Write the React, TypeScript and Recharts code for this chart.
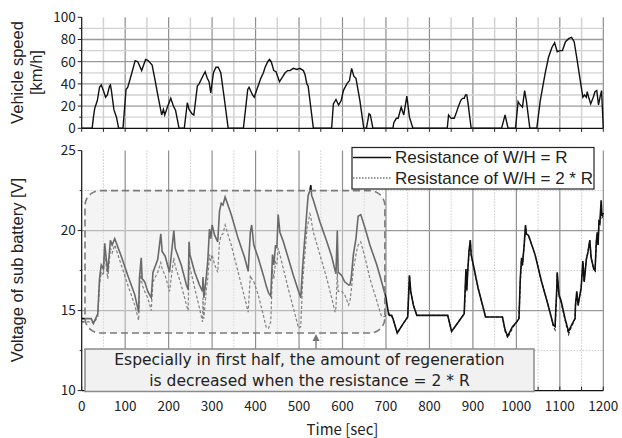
import React from 'react';
import { LineChart, Line, XAxis, YAxis, CartesianGrid, ReferenceArea } from 'recharts';

// ---------- data ----------
const speedTime = [0, 24, 27, 30, 36, 41, 45, 49, 55, 59, 64, 66, 68, 74, 80, 85, 95, 102, 106, 114, 123, 129, 138, 147, 153, 162, 168, 176, 184, 188, 191, 198, 205, 211, 216, 219, 224, 236, 243, 247, 254, 258, 266, 270, 280, 284, 289, 293, 297, 303, 309, 314, 320, 327, 332, 337, 372, 382, 385, 393, 397, 403, 412, 418, 422, 428, 432, 436, 442, 447, 455, 460, 468, 474, 479, 487, 495, 502, 510, 514, 518, 521, 533, 575, 579, 585, 591, 597, 602, 610, 616, 621, 626, 631, 640, 649, 655, 661, 664, 670, 716, 718, 724, 728, 735, 741, 748, 754, 762, 841, 844, 850, 857, 861, 867, 872, 876, 880, 883, 886, 889, 896, 966, 970, 974, 981, 998, 1004, 1007, 1014, 1019, 1023, 1031, 1047, 1055, 1066, 1074, 1082, 1088, 1094, 1100, 1106, 1113, 1121, 1127, 1133, 1140, 1147, 1153, 1157, 1161, 1163, 1167, 1171, 1177, 1181, 1185, 1189, 1193, 1196, 1200];
const speedKmh = [0, 0, 10, 18, 25, 37, 39, 35, 28, 30, 38, 39, 35, 17, 10, 0, 0, 35, 37, 48, 61, 60, 52, 62, 61, 57, 45, 28, 12, 17, 12, 20, 27, 20, 16, 10, 0, 0, 23, 17, 13, 12, 38, 40, 48, 51, 45, 42, 32, 50, 55, 55, 50, 30, 15, 0, 0, 35, 37, 30, 28, 35, 45, 50, 55, 60, 62, 60, 52, 51, 42, 45, 50, 52, 52, 54, 53, 54, 52, 48, 40, 38, 0, 0, 22, 26, 21, 25, 34, 40, 43, 54, 47, 45, 25, 0, 0, 13, 12, 0, 0, 5, 9, 9, 19, 12, 29, 10, 0, 0, 12, 9, 9, 13, 20, 25, 27, 27, 30, 30, 22, 0, 0, 6, 12, 0, 0, 24, 22, 19, 34, 25, 0, 0, 25, 49, 64, 73, 77, 69, 70, 70, 78, 81, 82, 78, 61, 43, 28, 30, 28, 33, 27, 22, 28, 33, 34, 21, 29, 34, 0];

const voltTime = [0, 22, 27, 37, 41, 45, 50, 53, 57, 60, 66, 70, 76, 91, 106, 122, 131, 133, 137, 139, 145, 152, 160, 164, 175, 182, 185, 192, 202, 212, 215, 229, 241, 245, 247, 249, 260, 271, 278, 279, 281, 287, 290, 294, 297, 300, 306, 313, 317, 321, 325, 330, 344, 360, 375, 383, 388, 391, 396, 406, 418, 425, 430, 435, 439, 442, 446, 449, 452, 456, 464, 475, 487, 499, 504, 508, 512, 515, 518, 521, 525, 527, 529, 533, 548, 564, 575, 583, 585, 588, 590, 598, 605, 614, 617, 620, 625, 631, 634, 636, 642, 652, 663, 679, 689, 694, 700, 705, 708, 713, 716, 726, 740, 750, 754, 757, 763, 771, 842, 851, 867, 880, 882, 884, 886, 888, 891, 894, 896, 901, 912, 924, 929, 968, 974, 980, 991, 1001, 1006, 1009, 1012, 1014, 1018, 1021, 1023, 1028, 1043, 1058, 1073, 1085, 1089, 1093, 1094, 1098, 1103, 1112, 1120, 1127, 1135, 1136, 1139, 1142, 1145, 1149, 1153, 1156, 1161, 1165, 1169, 1172, 1178, 1181, 1184, 1186, 1188, 1190, 1192, 1195, 1197, 1200];
const voltR = [14.5, 14.5, 14.2, 14.8, 17.0, 17.85, 17.6, 19.2, 18.1, 17.4, 19.4, 19.1, 19.5, 18.4, 17.2, 16.0, 14.9, 17.1, 18.3, 17.0, 16.8, 16.2, 15.8, 17.4, 18.2, 19.8, 18.7, 18.4, 17.4, 20.0, 18.9, 17.85, 16.6, 16.3, 19.3, 18.5, 17.4, 16.6, 16.2, 17.1, 15.8, 17.2, 18.1, 20.1, 19.5, 20.35, 19.7, 19.3, 21.2, 21.7, 21.6, 22.1, 21.0, 19.5, 18.3, 17.45, 19.9, 20.35, 19.1, 18.3, 17.2, 16.5, 16.1, 15.9, 18.5, 17.85, 19.1, 18.9, 21.0, 19.9, 19.3, 18.3, 17.2, 16.2, 15.8, 17.6, 19.1, 20.1, 21.2, 22.2, 22.5, 22.85, 22.2, 21.9, 20.55, 19.3, 18.4, 17.5, 17.3, 20.0, 17.4, 17.2, 16.8, 16.6, 16.6, 17.0, 18.5, 19.5, 20.35, 20.9, 21.0, 20.15, 19.1, 17.85, 16.9, 16.4, 15.8, 14.95, 14.7, 14.7, 14.5, 13.6, 14.2, 14.6, 17.2, 16.2, 15.35, 14.7, 14.7, 13.7, 14.3, 14.8, 16.2, 17.6, 16.3, 17.4, 18.7, 19.4, 18.5, 17.85, 16.4, 15.15, 14.6, 14.6, 13.8, 13.4, 14.0, 14.3, 14.5, 17.0, 18.3, 17.85, 19.1, 20.35, 19.8, 19.7, 18.5, 16.8, 15.35, 14.1, 14.0, 16.4, 17.4, 16.0, 15.6, 14.5, 13.7, 14.1, 14.5, 15.35, 16.2, 15.35, 15.8, 16.4, 18.1, 16.8, 18.2, 18.7, 19.4, 18.3, 17.6, 17.5, 19.3, 19.9, 19.1, 20.55, 20.45, 21.9, 20.9, 21.1];
const volt2R = [14.3, 14.3, 14.2, 14.6, 16.6, 17.4, 17.2, 18.7, 17.6, 17.0, 18.9, 18.6, 19.1, 17.85, 16.6, 15.35, 14.4, 16.6, 17.4, 16.6, 16.2, 15.8, 15.0, 16.8, 17.4, 18.0, 17.6, 17.2, 16.2, 18.3, 17.8, 16.6, 15.35, 15.0, 18.1, 17.7, 16.4, 15.15, 14.3, 15.8, 14.5, 16.4, 17.0, 18.5, 18.1, 18.5, 17.85, 17.4, 19.3, 19.7, 19.8, 20.35, 19.1, 17.4, 15.8, 14.9, 17.2, 17.0, 16.8, 16.0, 14.7, 13.9, 13.9, 14.3, 17.6, 17.0, 18.1, 17.9, 18.9, 18.5, 17.6, 16.4, 15.15, 13.9, 14.0, 16.6, 18.1, 19.0, 20.1, 20.5, 21.05, 20.9, 20.5, 19.9, 18.5, 17.0, 15.8, 14.9, 15.2, 17.4, 16.2, 16.2, 16.0, 15.35, 15.6, 16.2, 17.6, 18.5, 18.9, 19.1, 19.3, 18.3, 17.0, 15.6, 14.7, 14.6, 14.7, 14.8, 14.7, 14.7, 14.5, 13.6, 14.2, 14.6, 17.2, 16.2, 15.35, 14.7, 14.7, 13.7, 14.3, 14.8, 16.0, 17.4, 16.2, 17.4, 18.6, 19.4, 18.5, 17.85, 16.4, 15.15, 14.6, 14.6, 13.7, 13.3, 13.9, 14.3, 14.5, 16.8, 18.2, 17.8, 19.1, 20.2, 19.8, 19.7, 18.5, 16.8, 15.35, 14.0, 13.8, 16.2, 17.3, 15.9, 15.5, 14.4, 13.5, 14.0, 14.5, 15.3, 16.1, 15.3, 15.8, 16.4, 18.0, 16.8, 18.2, 18.7, 19.4, 18.3, 17.6, 17.5, 19.3, 19.8, 19.1, 20.5, 20.4, 21.4, 20.8, 20.9];

const timeTicks = [0, 50, 100, 150, 200, 250, 300, 350, 400, 450, 500, 550, 600, 650, 700, 750, 800, 850, 900, 950, 1000, 1050, 1100, 1150, 1200];
const timeLabels = [0, 100, 200, 300, 400, 500, 600, 700, 800, 900, 1000, 1100, 1200];
const timeMinor = [50, 150, 250, 350, 450, 550, 650, 750, 850, 950, 1050, 1150];
const timeMajor = [100, 200, 300, 400, 500, 600, 700, 800, 900, 1000, 1100, 1200];
const speedTicks = [0, 10, 20, 30, 40, 50, 60, 70, 80, 90, 100];
const speedLabels = [0, 20, 40, 60, 80, 100];
const speedMinorGrid = [10, 30, 50, 70, 90];
const speedMajorGrid = [20, 40, 60, 80];
const voltTicks = [10, 12.5, 15, 17.5, 20, 22.5, 25];
const voltLabels = [10, 15, 20, 25];
const voltMinorGrid = [12.5, 17.5, 22.5];
const voltMajorGrid = [15, 20];

const seriesNames = ['Resistance of W/H = R', 'Resistance of W/H = 2 * R'];
const noteLines = ['Especially in first half, the amount of regeneration', 'is decreased when the resistance = 2 * R'];
// highlighted region (time range, voltage range)
const boxTime = [7.6, 697.5];
const boxVolt = [13.6, 22.5];

const speedData = speedTime.map((t, i) => ({ t, v: speedKmh[i] }));
const voltData = voltTime.map((t, i) => ({ t, r: voltR[i], r2: volt2R[i] }));

// ---------- styles ----------
const FONT_JP = '"Noto Sans CJK JP", "Noto Sans", sans-serif';
const FONT_AR = '"Liberation Sans", Arial, sans-serif';
const FONT_DV = '"DejaVu Sans", sans-serif';
const W = 622;
const PLOT_L = 81.7;
const PLOT_R = 603.3;

function TopYTick(props: any) {
  const { x, y, payload } = props;
  const v = payload.value;
  const major = speedLabels.includes(v);
  return (
    <g>
      <line x1={x} x2={x - (major ? 4 : 2.5)} y1={y} y2={y} stroke="#222" strokeWidth={1} />
      {major && (
        <text x={x - 6} y={y} dy="0.36em" textAnchor="end" fontFamily={FONT_JP} fontSize={13.5} fill="#222">
          {v}
        </text>
      )}
    </g>
  );
}

function TopXTick(props: any) {
  const { x, y } = props;
  return <line x1={x} x2={x} y1={y} y2={y + 3.5} stroke="#222" strokeWidth={1} />;
}

function BottomYTick(props: any) {
  const { x, y, payload } = props;
  const v = payload.value;
  const major = voltLabels.includes(v);
  return (
    <g>
      <line x1={x} x2={x - (major ? 4 : 2)} y1={y} y2={y} stroke="#222" strokeWidth={1} />
      {major && (
        <text x={x - 6} y={y} dy="0.36em" textAnchor="end" fontFamily={FONT_JP} fontSize={13.5} fill="#222">
          {v}
        </text>
      )}
    </g>
  );
}

function BottomXTick(props: any) {
  const { x, y, payload } = props;
  const v = payload.value;
  const major = timeLabels.includes(v);
  return (
    <g>
      <line x1={x} x2={x} y1={y} y2={y - 4} stroke="#222" strokeWidth={1} />
      {major && (
        <text x={x} y={y + 16} dy="0.36em" textAnchor="middle" fontFamily={FONT_JP} fontSize={13.5} fill="#222">
          {v}
        </text>
      )}
    </g>
  );
}

function RoundedBox(props: any) {
  const { x, y, width, height } = props;
  return (
    <rect
      x={x}
      y={y}
      width={width}
      height={height}
      rx={15}
      ry={15}
      fill="rgba(229,229,229,0.42)"
      stroke="#7a7a7a"
      strokeWidth={1.6}
      strokeDasharray="7 4"
    />
  );
}

export default function App() {
  return (
    <div style={{ position: 'absolute', left: 0, top: 0, width: W, height: 438, background: '#fff' }}>
      <div style={{ position: 'absolute', left: 0, top: 0 }}>
        <LineChart width={W} height={140} data={speedData} margin={{ top: 17.3, right: W - PLOT_R, left: 0, bottom: 0 }}>
          <CartesianGrid horizontal={false} verticalValues={timeMinor} stroke="#d2d2d2" strokeWidth={1.5} />
          <CartesianGrid horizontal={false} verticalValues={timeMajor} stroke="#8e8e8e" strokeWidth={1.2} />
          <CartesianGrid vertical={false} horizontalValues={speedMinorGrid} stroke="#d2d2d2" strokeWidth={1.3} />
          <CartesianGrid vertical={false} horizontalValues={speedMajorGrid} stroke="#9a9a9a" strokeWidth={1.3} />
          <XAxis
            type="number"
            dataKey="t"
            domain={[0, 1200]}
            ticks={timeTicks}
            interval={0}
            height={11.7}
            tickSize={0}
            tickMargin={0}
            tickLine={false}
            tick={TopXTick}
            axisLine={{ stroke: '#111', strokeWidth: 1.2 }}
          />
          <YAxis
            type="number"
            domain={[0, 100]}
            ticks={speedTicks}
            interval={0}
            width={PLOT_L}
            tickSize={0}
            tickMargin={0}
            tickLine={false}
            tick={TopYTick}
            axisLine={{ stroke: '#111', strokeWidth: 1.2 }}
          />
          <Line type="linear" dataKey="v" stroke="#111" strokeWidth={1.4} dot={false} isAnimationActive={false} />
        </LineChart>
      </div>
      <div style={{ position: 'absolute', left: 0, top: 140 }}>
        <LineChart width={W} height={298} data={voltData} margin={{ top: 10.6, right: W - PLOT_R, left: 0, bottom: 0 }}>
          <CartesianGrid horizontal={false} verticalValues={timeMinor} stroke="#b0b0b0" strokeDasharray="1 2" />
          <CartesianGrid horizontal={false} verticalValues={timeMajor} stroke="#8e8e8e" strokeWidth={1.2} />
          <CartesianGrid vertical={false} horizontalValues={voltMinorGrid} stroke="#b0b0b0" strokeDasharray="1 2" />
          <CartesianGrid vertical={false} horizontalValues={voltMajorGrid} stroke="#9a9a9a" strokeWidth={1.2} />
          <XAxis
            type="number"
            dataKey="t"
            domain={[0, 1200]}
            ticks={timeTicks}
            interval={0}
            height={47.4}
            tickSize={0}
            tickMargin={0}
            tickLine={false}
            tick={BottomXTick}
            axisLine={{ stroke: '#111', strokeWidth: 1.2 }}
          />
          <YAxis
            type="number"
            domain={[10, 25]}
            ticks={voltTicks}
            interval={0}
            width={PLOT_L}
            tickSize={0}
            tickMargin={0}
            tickLine={false}
            tick={BottomYTick}
            axisLine={{ stroke: '#111', strokeWidth: 1.2 }}
          />
          <Line type="linear" dataKey="r2" name={seriesNames[1]} stroke="#3a3a3a" strokeWidth={1.2} strokeDasharray="3 2" dot={false} isAnimationActive={false} />
          <Line type="linear" dataKey="r" name={seriesNames[0]} stroke="#111" strokeWidth={1.6} dot={false} isAnimationActive={false} />
          <ReferenceArea
            x1={boxTime[0]}
            x2={boxTime[1]}
            y1={boxVolt[0]}
            y2={boxVolt[1]}
            shape={RoundedBox}
            ifOverflow="visible"
            {...({ zIndex: 450 } as any)}
          />
        </LineChart>
      </div>
      <svg width={W} height={438} style={{ position: 'absolute', left: 0, top: 0, pointerEvents: 'none' }}>
        {/* axis titles */}
        <text transform="translate(17,72.5) rotate(-90)" textAnchor="middle" dominantBaseline="central" fontFamily={FONT_AR} fontSize={16.5} fill="#222">
          Vehicle speed
        </text>
        <text transform="translate(36,72.5) rotate(-90)" textAnchor="middle" dominantBaseline="central" fontFamily={FONT_AR} fontSize={16.5} fill="#222">
          [km/h]
        </text>
        <text transform="translate(17,270) rotate(-90)" textAnchor="middle" dominantBaseline="central" fontFamily={FONT_AR} fontSize={16.5} fill="#222">
          Voltage of sub battery [V]
        </text>
        <text x={342.5} y={428} textAnchor="middle" dominantBaseline="central" fontFamily={FONT_JP} fontSize={15} fill="#222">
          Time [sec]
        </text>
        {/* legend */}
        <rect x={352} y={147.5} width={242} height={41.5} fill="#fff" stroke="#222" strokeWidth={1.2} />
        <line x1={353} x2={391} y1={157.5} y2={157.5} stroke="#111" strokeWidth={1.3} />
        <text x={395} y={157.5} dominantBaseline="central" fontFamily={FONT_AR} fontSize={17} fill="#222">
          {seriesNames[0]}
        </text>
        <line x1={353} x2={391} y1={178} y2={178} stroke="#333" strokeWidth={1.1} strokeDasharray="1.5 1.5" />
        <text x={395} y={178} dominantBaseline="central" fontFamily={FONT_AR} fontSize={17} fill="#222">
          {seriesNames[1]}
        </text>
        {/* note box */}
        <line x1={316} x2={316} y1={349} y2={339} stroke="#777" strokeWidth={1.3} />
        <path d="M316 334 L312.5 341 L319.5 341 Z" fill="#777" />
        <rect x={85} y={349} width={449} height={42.5} fill="#f1f1f1" stroke="#8a8a8a" strokeWidth={1.5} />
        <text x={309.5} y={360} textAnchor="middle" dominantBaseline="central" fontFamily={FONT_DV} fontSize={15.5} fill="#222">
          {noteLines[0]}
        </text>
        <text x={309.5} y={381} textAnchor="middle" dominantBaseline="central" fontFamily={FONT_DV} fontSize={15.5} fill="#222">
          {noteLines[1]}
        </text>
      </svg>
    </div>
  );
}
